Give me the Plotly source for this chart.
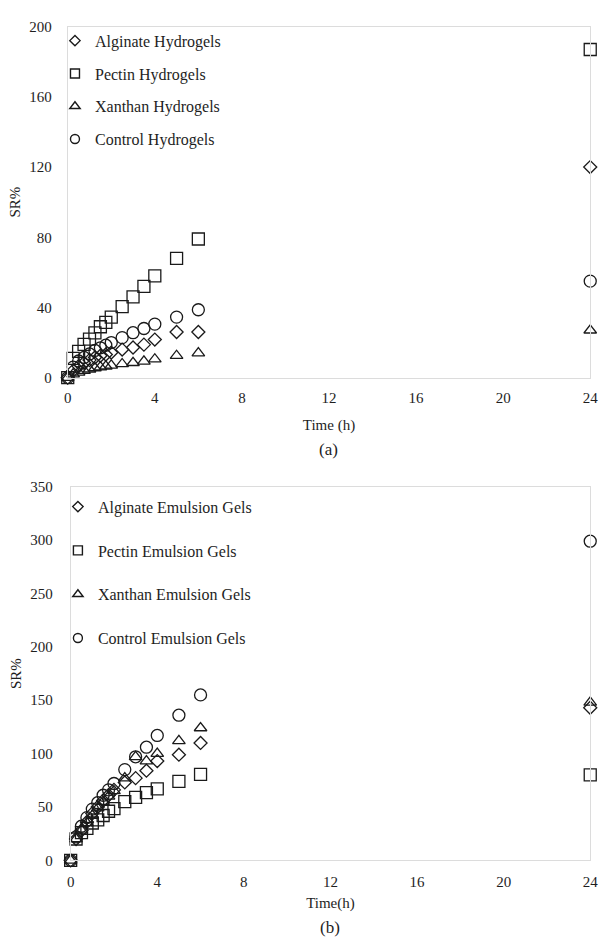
import plotly.graph_objects as go

# ---------------- data ----------------
time_h = [0, 0.25, 0.5, 0.75, 1, 1.25, 1.5, 1.75, 2, 2.5, 3, 3.5, 4, 5, 6, 24]

# (a) Hydrogels, SR%
alg_hydro = [0, 4, 6.5, 8.5, 10, 11.5, 12.5, 13.2, 14.3, 16, 17.2, 18.8, 21.7, 26, 26, 120]
pec_hydro = [0, 11, 15, 19, 22, 25.5, 29, 31.5, 34.5, 40.5, 46, 52, 58, 68, 79, 187]
xan_hydro = [0, 2, 3, 4, 4.8, 5.5, 6, 6.5, 7, 7.8, 8.5, 9.3, 10.5, 12.5, 14, 27]
con_hydro = [0, 6, 9.5, 11.5, 13.5, 15.5, 17, 18.5, 20, 22.8, 25.6, 28, 30.5, 34.5, 38.7, 55]

# (b) Emulsion gels, SR%
alg_emul = [0, 20, 28, 36, 44, 50, 56, 61, 66, 73, 77, 84, 93, 99, 110, 143]
pec_emul = [0, 20, 26, 30, 35, 38, 42, 46, 48.5, 55, 59, 63.5, 67, 74, 80.5, 80]
xan_emul = [0, 20, 28, 35, 42, 49, 55, 60, 65, 77, 97, 93, 100, 112, 124, 148]
con_emul = [0, 22, 32, 40, 48, 54, 61, 66, 72, 85, 97, 106, 117, 136, 155, 299]

names_a = ["Alginate Hydrogels", "Pectin Hydrogels", "Xanthan Hydrogels", "Control Hydrogels"]
names_b = ["Alginate Emulsion Gels", "Pectin Emulsion Gels", "Xanthan Emulsion Gels", "Control Emulsion Gels"]
symbols = ["diamond-open", "square-open", "triangle-up-open", "circle-open"]
sizes = [10, 12, 11, 12]
legend_sizes = [8, 9, 9, 9]

x_ticks = [0, 4, 8, 12, 16, 20, 24]
y_ticks_a = [0, 40, 80, 120, 160, 200]
y_ticks_b = [0, 50, 100, 150, 200, 250, 300, 350]

W, H = 610, 947
FONT = "Liberation Serif, Times New Roman, serif"
MK = "#1a1a1a"
TXT = "#1e1e1e"
FRAME = "#dcdcdc"

fig = go.Figure()

series_a = [alg_hydro, pec_hydro, xan_hydro, con_hydro]
series_b = [alg_emul, pec_emul, xan_emul, con_emul]


def add_panel(names, series, xa, ya, leg, grp):
    for i, (nm, ys) in enumerate(zip(names, series)):
        # data marks
        fig.add_trace(go.Scatter(
            x=time_h, y=ys, mode="markers", name=nm, showlegend=False,
            legendgroup=f"{grp}{i}",
            marker=dict(symbol=symbols[i], size=sizes[i], color=MK,
                        line=dict(width=1.3, color=MK)),
            xaxis=xa, yaxis=ya, cliponaxis=False))
        # legend entry (smaller key symbol as in the reference)
        fig.add_trace(go.Scatter(
            x=[None], y=[None], mode="markers", name=nm, showlegend=True,
            legend=leg, legendgroup=f"{grp}{i}",
            marker=dict(symbol=symbols[i], size=legend_sizes[i], color=MK,
                        line=dict(width=1.4, color=MK)),
            xaxis=xa, yaxis=ya))


add_panel(names_a, series_a, "x", "y", "legend", "a")
add_panel(names_b, series_b, "x2", "y2", "legend2", "b")


def px_x(p):
    return p / W


def px_y(p):
    return 1 - p / H


axis_common = dict(
    showline=True, linecolor=FRAME, linewidth=1, mirror=True,
    showgrid=False, zeroline=False, ticks="",
    tickfont=dict(family=FONT, size=15, color=TXT),
)

fig.update_layout(
    width=W, height=H,
    margin=dict(l=0, r=0, t=0, b=0),
    paper_bgcolor="white", plot_bgcolor="white",
    font=dict(family=FONT, size=15, color=TXT),
    xaxis=dict(domain=[px_x(65), px_x(598)], range=[0, 24], tickvals=x_ticks,
               anchor="y", ticklabelstandoff=6,
               title=dict(text="Time (h)", standoff=14, font=dict(family=FONT, size=15)),
               **axis_common),
    yaxis=dict(domain=[px_y(376), px_y(19)], range=[0, 200], tickvals=y_ticks_a,
               anchor="x", ticklabelstandoff=12,
               title=dict(text="SR%", standoff=4, font=dict(family=FONT, size=15)),
               **axis_common),
    xaxis2=dict(domain=[px_x(68), px_x(598)], range=[0, 24], tickvals=x_ticks,
                anchor="y2", ticklabelstandoff=8,
                title=dict(text="Time(h)", standoff=8, font=dict(family=FONT, size=15)),
                **axis_common),
    yaxis2=dict(domain=[px_y(867), px_y(487)], range=[0, 350], tickvals=y_ticks_b,
                anchor="x2", ticklabelstandoff=14,
                title=dict(text="SR%", standoff=4, font=dict(family=FONT, size=15)),
                **axis_common),
    legend=dict(x=px_x(52), y=px_y(16), xanchor="left", yanchor="top",
                font=dict(family=FONT, size=16, color=TXT),
                tracegroupgap=9, itemwidth=30, bgcolor="rgba(0,0,0,0)"),
    legend2=dict(x=px_x(55), y=px_y(490), xanchor="left", yanchor="top",
                 font=dict(family=FONT, size=16, color=TXT),
                 tracegroupgap=20, itemwidth=30, bgcolor="rgba(0,0,0,0)"),
    annotations=[
        dict(text="(a)", x=px_x(331), y=px_y(449), xref="paper", yref="paper",
             xanchor="center", yanchor="middle",
             showarrow=False, font=dict(family=FONT, size=17, color=TXT)),
        dict(text="(b)", x=px_x(333), y=px_y(935), xref="paper", yref="paper",
             xanchor="center", yanchor="middle",
             showarrow=False, font=dict(family=FONT, size=17, color=TXT)),
    ],
)

fig.write_html("out.html")
